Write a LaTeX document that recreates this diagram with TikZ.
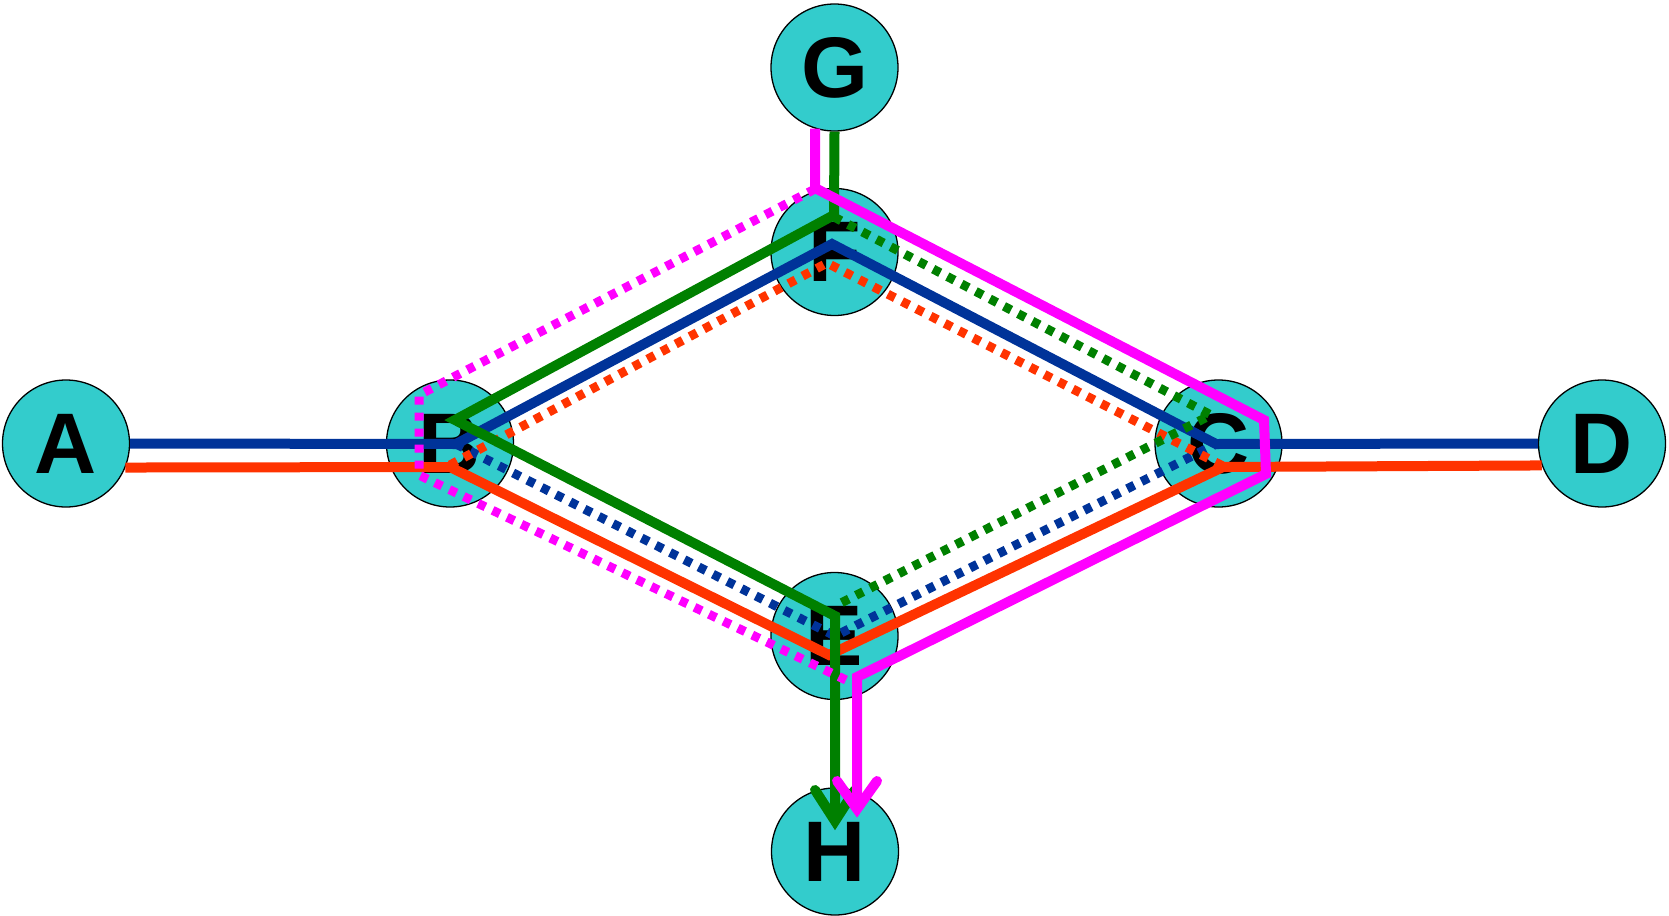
\documentclass[tikz,border=0pt]{standalone}
\usepackage{fontspec}
\setmainfont{Liberation Sans}
\usetikzlibrary{calc}
\definecolor{nodefill}{HTML}{33CCCC}
\definecolor{pblue}{HTML}{003399}
\definecolor{porange}{HTML}{FF3300}
\definecolor{pgreen}{HTML}{008000}
\definecolor{pmag}{HTML}{FF00FF}
\begin{document}
\begin{tikzpicture}[x=1pt,y=-1pt,
  vertex/.style={circle, draw=black, line width=1.3pt, fill=nodefill, minimum size=127pt, inner sep=0pt, font=\fontsize{86}{86}\selectfont\bfseries},
  route/.style={line width=10pt, line join=miter},
  alt/.style={line width=9pt, dash pattern=on 8pt off 8pt},
  barb/.style={line width=10pt, line cap=round, line join=miter}]
\useasboundingbox (0,0) rectangle (1669,915);
% nodes
\node[vertex] (A) at (66,443.5) {A};
\node[vertex] (B) at (450,443.5) {B};
\node[vertex] (F) at (834.5,252) {F};
\node[vertex] (G) at (834.5,67.5) {G};
\node[vertex] (C) at (1218.5,443.5) {C};
\node[vertex] (D) at (1602,443.5) {D};
\node[vertex] (E) at (834.5,636) {E};
\node[vertex] (H) at (835,851.5) {H};
% route points
\coordinate (gm) at (815,128.5);
\coordinate (hg) at (835,821);
\coordinate (hm) at (857,809);
% blue
\draw[route, pblue] (A.east) -- (456,444) -- (832,244) -- (1216,444) -- (D.west);
\draw[alt, pblue] (456,444) -- (835,636) -- (1216,444);
% orange
\draw[route, porange] (A.-22) -- (450,467) -- (829,655) -- (1223,467) -- (D.200.6);
\draw[alt, porange] (450,465) -- (827,263) -- (1223,466);
% green
\draw[route, pgreen] (G.south) -- (834,215) -- (455,420) -- (835,616) -- (hg);
\draw[alt, pgreen] (834,217) -- (1211,415) -- (835,606);
\draw[barb, pgreen] ($(hg)+(-20,-31)$) -- (hg) -- ($(hg)+(20,-31)$);
% magenta
\draw[route, pmag] (gm) -- (815,188) -- (1264,420) -- (1266,474) -- (857,677) -- (hm);
\draw[alt, pmag] (815,189) -- (419,395) -- (419,475) -- (848,681);
\draw[barb, pmag] ($(hm)+(-20,-28)$) -- (hm) -- ($(hm)+(20,-28)$);
\end{tikzpicture}
\end{document}
